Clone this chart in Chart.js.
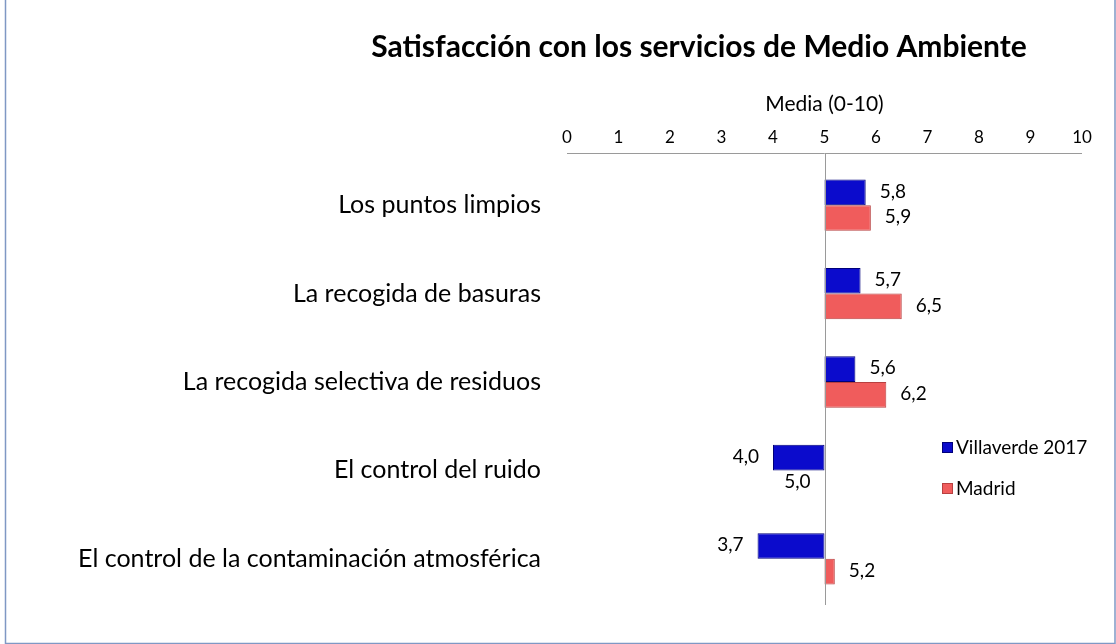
<!DOCTYPE html>
<html>
<head>
<meta charset="utf-8">
<script src="https://cdn.jsdelivr.net/npm/chart.js@4/dist/chart.umd.min.js"></script>
<style>
  html, body { margin: 0; padding: 0; background: #fff; }
  #wrap { width: 1116px; height: 644px; position: relative; }
</style>
</head>
<body>
<div id="wrap"><canvas id="myChart" width="1116" height="644"></canvas></div>
<script>
// data
var categories = [
  "Los puntos limpios",
  "La recogida de basuras",
  "La recogida selectiva de residuos",
  "El control del ruido",
  "El control de la contaminación atmosférica"
];
var villaverde = [5.8, 5.7, 5.6, 4.0, 3.7];
var madrid = [5.9, 6.5, 6.2, 5.0, 5.2];
var seriesNames = ["Villaverde 2017", "Madrid"];
var baseValue = 5; // the bars start at 5
var xTicks = [0, 1, 2, 3, 4, 5, 6, 7, 8, 9, 10];

var FONT = "Lato, 'Open Sans', sans-serif";
var blue = '#0b0bcc', blueEdge = '#00007a';
var red = '#f05c5c', redEdge = '#b84040';

function floating(vals) {
  return vals.map(function (v) { return [baseValue, v]; });
}

// frame, title, axis lines, labels and legend
var extras = {
  id: 'extras',
  beforeDraw: function (chart) {
    var c = chart.ctx;
    c.save();
    c.strokeStyle = '#7f98c4';
    c.lineWidth = 1.5;
    c.beginPath();
    c.moveTo(5.5, 0); c.lineTo(5.5, 643.5); c.lineTo(1115, 643.5); c.lineTo(1115, 0);
    c.stroke();
    c.restore();
  },
  afterDatasetsDraw: function (chart) {
    var c = chart.ctx;
    var a = chart.chartArea;
    var xs = chart.scales.x;
    var x5 = Math.round(xs.getPixelForValue(baseValue)) + 0.5;
    var lineY = a.top - 7.5;
    c.save();
    c.strokeStyle = '#9a9a9a';
    c.lineWidth = 1;
    c.beginPath();
    c.moveTo(a.left, lineY); c.lineTo(a.right, lineY);
    c.moveTo(x5, lineY); c.lineTo(x5, a.bottom + 2);
    c.stroke();

    // title
    c.fillStyle = '#000';
    c.font = 'bold 30px ' + FONT;
    c.textAlign = 'center';
    c.textBaseline = 'middle';
    c.fillText('Satisfacción con los servicios de Medio Ambiente', 699, 47);

    // value labels
    c.font = '19px ' + FONT;
    c.textBaseline = 'middle';
    chart.data.datasets.forEach(function (ds, di) {
      var meta = chart.getDatasetMeta(di);
      meta.data.forEach(function (bar, i) {
        var v = ds.data[i][1];
        var txt = v.toFixed(1).replace('.', ',');
        var y = bar.y - 1;
        if (v > baseValue) {
          c.textAlign = 'left';
          c.fillText(txt, Math.max(bar.x, bar.base) + 14, y);
        } else {
          c.textAlign = 'right';
          c.fillText(txt, Math.min(bar.x, bar.base) - 14, y);
        }
      });
    });

    // legend
    var items = [[blue, blueEdge, 447], [red, redEdge, 488]];
    c.font = '19px ' + FONT;
    c.textAlign = 'left';
    items.forEach(function (it, k) {
      c.fillStyle = it[0];
      c.fillRect(942, it[2] - 5, 11, 11);
      c.strokeStyle = it[1];
      c.strokeRect(942.5, it[2] - 4.5, 10, 10);
      c.fillStyle = '#000';
      c.fillText(seriesNames[k], 956, it[2] + 1);
    });
    c.restore();
  }
};

var myChart = new Chart(document.getElementById('myChart'), {
  type: 'bar',
  data: {
    labels: categories,
    datasets: [{
      label: seriesNames[0],
      data: floating(villaverde),
      backgroundColor: blue,
      borderColor: blueEdge,
      borderWidth: 1,
      borderSkipped: false
    }, {
      label: seriesNames[1],
      data: floating(madrid),
      backgroundColor: red,
      borderColor: redEdge,
      borderWidth: 1,
      borderSkipped: false
    }]
  },
  options: {
    indexAxis: 'y',
    responsive: false,
    animation: false,
    layout: { padding: { top: 84, left: 0, right: 34, bottom: 36 } },
    datasets: { bar: { categoryPercentage: 0.58, barPercentage: 1.0 } },
    plugins: {
      legend: { display: false },
      title: { display: false },
      tooltip: { enabled: false }
    },
    scales: {
      x: {
        position: 'top',
        min: 0,
        max: 10,
        afterBuildTicks: function (s) { s.ticks = xTicks.map(function (v) { return { value: v }; }); },
        afterFit: function (s) { s.height = 77; },
        grid: { display: false, drawTicks: false },
        border: { display: false },
        ticks: { color: '#000', padding: 13, font: { family: FONT, size: 17 } },
        title: {
          display: true,
          text: 'Media (0-10)',
          color: '#000',
          padding: { top: 8, bottom: 6 },
          font: { family: FONT, size: 21 }
        }
      },
      y: {
        afterFit: function (s) { s.width = 567; },
        grid: { display: false, drawTicks: false },
        border: { display: false },
        ticks: { color: '#000', padding: 26, font: { family: FONT, size: 25 } }
      }
    }
  },
  plugins: [extras]
});
</script>
</body>
</html>
